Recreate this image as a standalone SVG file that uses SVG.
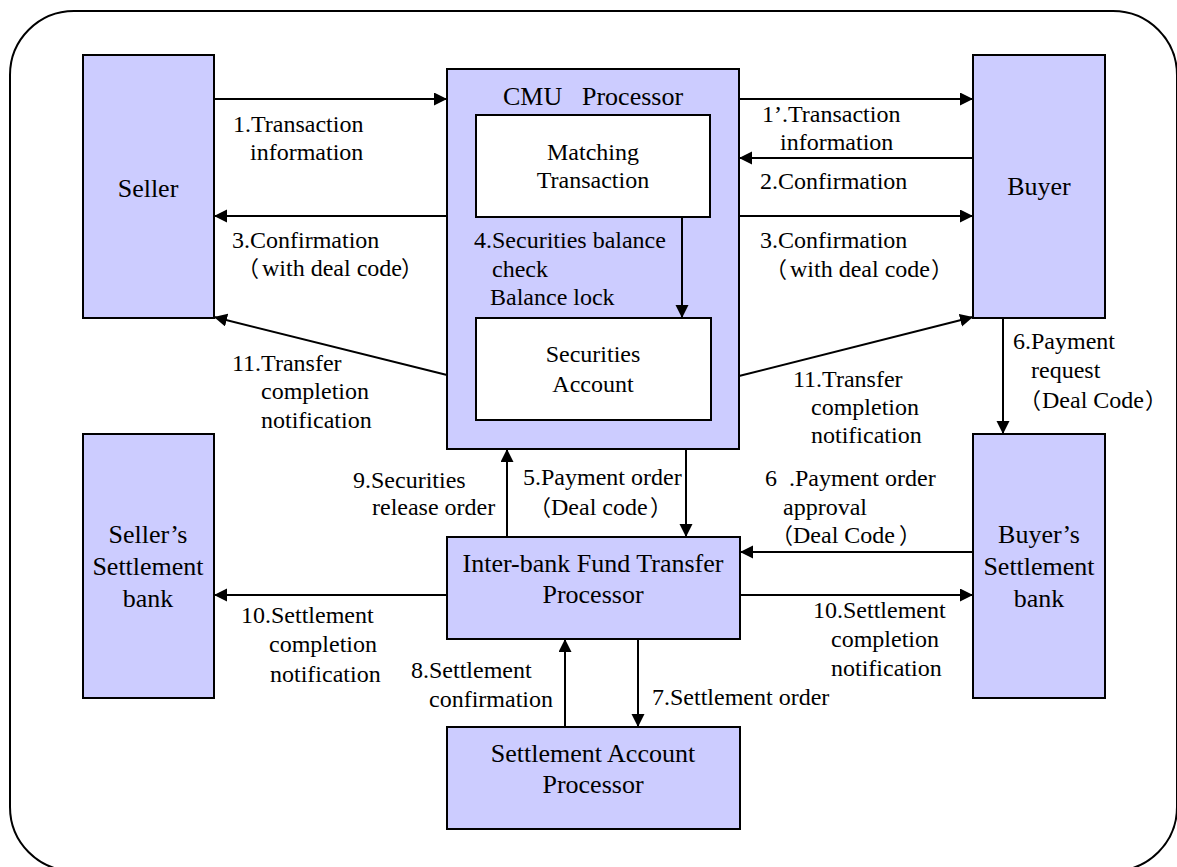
<svg xmlns="http://www.w3.org/2000/svg" width="1177" height="867" viewBox="0 0 1177 867">
<defs>
<marker id="arrow" markerUnits="userSpaceOnUse" markerWidth="14" markerHeight="14" refX="13" refY="6.5" orient="auto">
<path d="M0,0 L13,6.5 L0,13 z" fill="#000"/>
</marker>
</defs>
<rect width="1177" height="867" fill="#FFFFFF"/>
<rect x="10" y="11" width="1167" height="860" rx="64" ry="64" fill="none" stroke="#000" stroke-width="2"/>

<g id="seller"><rect x="83" y="55" width="131" height="263" fill="#CCCCFF" stroke="#000" stroke-width="2"/><text x="148" y="197" font-family="'Liberation Serif', 'Noto Sans CJK SC', serif" font-size="26" text-anchor="middle">Seller</text></g>
<g id="buyer"><rect x="973" y="55" width="132" height="263" fill="#CCCCFF" stroke="#000" stroke-width="2"/><text x="1039" y="195" font-family="'Liberation Serif', 'Noto Sans CJK SC', serif" font-size="26" text-anchor="middle">Buyer</text></g>
<g id="cmu"><rect x="447" y="69" width="292" height="380" fill="#CCCCFF" stroke="#000" stroke-width="2"/><text x="503" y="105" font-family="'Liberation Serif', 'Noto Sans CJK SC', serif" font-size="26">CMU</text><text x="582" y="105" font-family="'Liberation Serif', 'Noto Sans CJK SC', serif" font-size="26">Processor</text></g>
<g id="matching"><rect x="476" y="115" width="234" height="102" fill="#FFFFFF" stroke="#000" stroke-width="2"/><text x="593" y="160" font-family="'Liberation Serif', 'Noto Sans CJK SC', serif" font-size="24" text-anchor="middle">Matching</text><text x="593" y="188" font-family="'Liberation Serif', 'Noto Sans CJK SC', serif" font-size="24" text-anchor="middle">Transaction</text></g>
<g id="secacct"><rect x="476" y="318" width="235" height="102" fill="#FFFFFF" stroke="#000" stroke-width="2"/><text x="593" y="362" font-family="'Liberation Serif', 'Noto Sans CJK SC', serif" font-size="24" text-anchor="middle">Securities</text><text x="593" y="392" font-family="'Liberation Serif', 'Noto Sans CJK SC', serif" font-size="24" text-anchor="middle">Account</text></g>
<g id="sellerbank"><rect x="83" y="434" width="131" height="264" fill="#CCCCFF" stroke="#000" stroke-width="2"/><text x="148" y="543" font-family="'Liberation Serif', 'Noto Sans CJK SC', serif" font-size="26" text-anchor="middle">Seller’s</text><text x="148" y="575" font-family="'Liberation Serif', 'Noto Sans CJK SC', serif" font-size="26" text-anchor="middle">Settlement</text><text x="148" y="607" font-family="'Liberation Serif', 'Noto Sans CJK SC', serif" font-size="26" text-anchor="middle">bank</text></g>
<g id="buyerbank"><rect x="973" y="434" width="132" height="264" fill="#CCCCFF" stroke="#000" stroke-width="2"/><text x="1039" y="543" font-family="'Liberation Serif', 'Noto Sans CJK SC', serif" font-size="26" text-anchor="middle">Buyer’s</text><text x="1039" y="575" font-family="'Liberation Serif', 'Noto Sans CJK SC', serif" font-size="26" text-anchor="middle">Settlement</text><text x="1039" y="607" font-family="'Liberation Serif', 'Noto Sans CJK SC', serif" font-size="26" text-anchor="middle">bank</text></g>
<g id="interbank"><rect x="447" y="537" width="293" height="102" fill="#CCCCFF" stroke="#000" stroke-width="2"/><text x="593" y="572" font-family="'Liberation Serif', 'Noto Sans CJK SC', serif" font-size="26" text-anchor="middle">Inter-bank Fund Transfer</text><text x="593" y="603" font-family="'Liberation Serif', 'Noto Sans CJK SC', serif" font-size="26" text-anchor="middle">Processor</text></g>
<g id="settleacct"><rect x="447" y="727" width="293" height="102" fill="#CCCCFF" stroke="#000" stroke-width="2"/><text x="593" y="762" font-family="'Liberation Serif', 'Noto Sans CJK SC', serif" font-size="26" text-anchor="middle">Settlement Account</text><text x="593" y="793" font-family="'Liberation Serif', 'Noto Sans CJK SC', serif" font-size="26" text-anchor="middle">Processor</text></g>

<g id="connectors" fill="none" stroke="#000" stroke-width="2" marker-end="url(#arrow)">
<path d="M214,99 H447"/>
<path d="M447,216 H214"/>
<path d="M739,99 H973"/>
<path d="M973,158 H739"/>
<path d="M739,216 H973"/>
<path d="M447,375 L214,317"/>
<path d="M739,376 L973,317"/>
<path d="M682,217 V318"/>
<path d="M1003,318 V434"/>
<path d="M507,537 V449"/>
<path d="M686,449 V537"/>
<path d="M973,552 H740"/>
<path d="M447,595 H214"/>
<path d="M740,595 H973"/>
<path d="M565,727 V639"/>
<path d="M638,639 V727"/>
</g>

<g id="labels">
<text font-family="'Liberation Serif', 'Noto Sans CJK SC', serif" font-size="24" x="233" y="132">1.Transaction</text>
<text font-family="'Liberation Serif', 'Noto Sans CJK SC', serif" font-size="24" x="250" y="160">information</text>
<text font-family="'Liberation Serif', 'Noto Sans CJK SC', serif" font-size="24" x="232" y="248">3.Confirmation</text>
<text font-family="'Noto Sans CJK SC', sans-serif" font-size="22" x="237" y="276">（</text>
<text font-family="'Liberation Serif', 'Noto Sans CJK SC', serif" font-size="24" x="262" y="276">with deal code</text>
<text font-family="'Noto Sans CJK SC', sans-serif" font-size="22" x="401" y="276">）</text>
<text font-family="'Liberation Serif', 'Noto Sans CJK SC', serif" font-size="24" x="232" y="371">11.Transfer</text>
<text font-family="'Liberation Serif', 'Noto Sans CJK SC', serif" font-size="24" x="261" y="399">completion</text>
<text font-family="'Liberation Serif', 'Noto Sans CJK SC', serif" font-size="24" x="261" y="428">notification</text>
<text font-family="'Liberation Serif', 'Noto Sans CJK SC', serif" font-size="24" x="762" y="122">1’.Transaction</text>
<text font-family="'Liberation Serif', 'Noto Sans CJK SC', serif" font-size="24" x="780" y="150">information</text>
<text font-family="'Liberation Serif', 'Noto Sans CJK SC', serif" font-size="24" x="760" y="189">2.Confirmation</text>
<text font-family="'Liberation Serif', 'Noto Sans CJK SC', serif" font-size="24" x="760" y="248">3.Confirmation</text>
<text font-family="'Noto Sans CJK SC', sans-serif" font-size="22" x="765" y="277">（</text>
<text font-family="'Liberation Serif', 'Noto Sans CJK SC', serif" font-size="24" x="790" y="277">with deal code</text>
<text font-family="'Noto Sans CJK SC', sans-serif" font-size="22" x="931" y="277">）</text>
<text font-family="'Liberation Serif', 'Noto Sans CJK SC', serif" font-size="24" x="793" y="387">11.Transfer</text>
<text font-family="'Liberation Serif', 'Noto Sans CJK SC', serif" font-size="24" x="811" y="415">completion</text>
<text font-family="'Liberation Serif', 'Noto Sans CJK SC', serif" font-size="24" x="811" y="443">notification</text>
<text font-family="'Liberation Serif', 'Noto Sans CJK SC', serif" font-size="24" x="474" y="248">4.Securities balance</text>
<text font-family="'Liberation Serif', 'Noto Sans CJK SC', serif" font-size="24" x="492" y="277">check</text>
<text font-family="'Liberation Serif', 'Noto Sans CJK SC', serif" font-size="24" x="490" y="305">Balance lock</text>
<text font-family="'Liberation Serif', 'Noto Sans CJK SC', serif" font-size="24" x="1013" y="349">6.Payment</text>
<text font-family="'Liberation Serif', 'Noto Sans CJK SC', serif" font-size="24" x="1031" y="378">request</text>
<text font-family="'Noto Sans CJK SC', sans-serif" font-size="22" x="1019" y="408">（</text>
<text font-family="'Liberation Serif', 'Noto Sans CJK SC', serif" font-size="24" x="1042" y="408">Deal Code</text>
<text font-family="'Noto Sans CJK SC', sans-serif" font-size="22" x="1145" y="408">）</text>
<text font-family="'Liberation Serif', 'Noto Sans CJK SC', serif" font-size="24" x="353" y="488">9.Securities</text>
<text font-family="'Liberation Serif', 'Noto Sans CJK SC', serif" font-size="24" x="372" y="515">release order</text>
<text font-family="'Liberation Serif', 'Noto Sans CJK SC', serif" font-size="24" x="523" y="485">5.Payment order</text>
<text font-family="'Noto Sans CJK SC', sans-serif" font-size="22" x="529" y="515">（</text>
<text font-family="'Liberation Serif', 'Noto Sans CJK SC', serif" font-size="24" x="551" y="515">Deal code</text>
<text font-family="'Noto Sans CJK SC', sans-serif" font-size="22" x="650" y="515">）</text>
<text font-family="'Liberation Serif', 'Noto Sans CJK SC', serif" font-size="24" x="765" y="486">6</text>
<text font-family="'Liberation Serif', 'Noto Sans CJK SC', serif" font-size="24" x="789" y="486">.Payment order</text>
<text font-family="'Liberation Serif', 'Noto Sans CJK SC', serif" font-size="24" x="783" y="515">approval</text>
<text font-family="'Noto Sans CJK SC', sans-serif" font-size="22" x="771" y="543">（</text>
<text font-family="'Liberation Serif', 'Noto Sans CJK SC', serif" font-size="24" x="793" y="543">Deal Code</text>
<text font-family="'Noto Sans CJK SC', sans-serif" font-size="22" x="899" y="543">）</text>
<text font-family="'Liberation Serif', 'Noto Sans CJK SC', serif" font-size="24" x="241" y="623">10.Settlement</text>
<text font-family="'Liberation Serif', 'Noto Sans CJK SC', serif" font-size="24" x="269" y="652">completion</text>
<text font-family="'Liberation Serif', 'Noto Sans CJK SC', serif" font-size="24" x="270" y="682">notification</text>
<text font-family="'Liberation Serif', 'Noto Sans CJK SC', serif" font-size="24" x="813" y="618">10.Settlement</text>
<text font-family="'Liberation Serif', 'Noto Sans CJK SC', serif" font-size="24" x="831" y="647">completion</text>
<text font-family="'Liberation Serif', 'Noto Sans CJK SC', serif" font-size="24" x="831" y="676">notification</text>
<text font-family="'Liberation Serif', 'Noto Sans CJK SC', serif" font-size="24" x="411" y="678">8.Settlement</text>
<text font-family="'Liberation Serif', 'Noto Sans CJK SC', serif" font-size="24" x="429" y="707">confirmation</text>
<text font-family="'Liberation Serif', 'Noto Sans CJK SC', serif" font-size="24" x="652" y="705">7.Settlement order</text>
</g>
</svg>
